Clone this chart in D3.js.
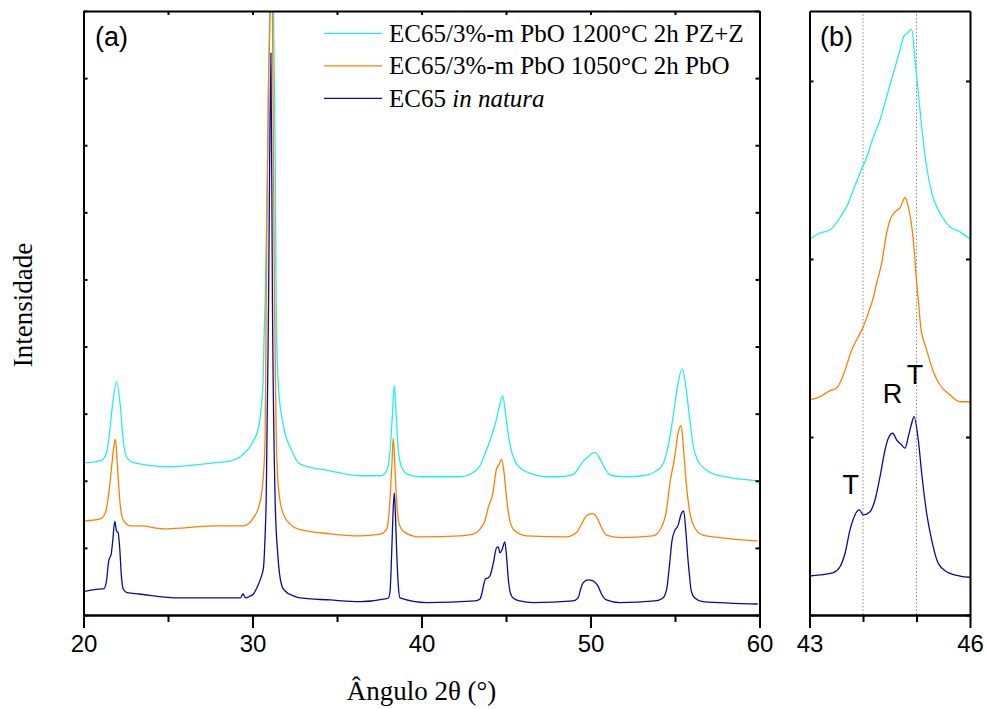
<!DOCTYPE html>
<html>
<head>
<meta charset="utf-8">
<script src="https://cdn.jsdelivr.net/npm/d3@7"></script>
<style>
  html, body { margin: 0; padding: 0; background: #fff; }
  svg { display: block; }
</style>
</head>
<body>
<svg id="chart" width="987" height="709"></svg>
<script>
// ---------------- DATA ----------------
const legendLabels = ["EC65/3%-m PbO 1200°C 2h PZ+Z", "EC65/3%-m PbO 1050°C 2h PbO", "EC65 "];
const legendItalic = ["", "", "in natura"];
const seriesColors = ["#22EEEE", "#FF8000", "#0A0AA0"];

const xTicksA = [20, 30, 40, 50, 60];
const xMinorA = [25, 35, 45, 55];
const xTicksB = [43, 46];
const xMinorB = [44, 45];
const refLines = [44, 45];
const peakLabels = ["T", "R", "T"];
const peakLabelTheta = [43.77, 44.55, 44.97];
const peakLabelInt = [680, 1190, 1300];

// panel (a): 2θ (°) and intensity (a.u.)
const thetaA_pz = [20.02,21.00,21.30,21.49,21.70,21.95,22.19,22.35,22.58,22.97,24.95,27.70,28.69,29.47,30.06,30.36,30.50,30.62,30.69,30.75,30.90,31.01,31.11,31.24,31.34,31.40,31.48,31.60,31.74,31.93,32.23,32.82,34.59,36.37,37.55,37.94,38.14,38.27,38.39,38.51,38.63,38.83,39.22,39.91,42.27,43.06,43.46,43.75,44.05,44.34,44.60,44.80,44.93,45.07,45.27,45.52,45.92,46.61,47.40,48.18,48.97,49.26,49.52,49.86,50.25,50.45,50.71,50.94,51.33,52.12,53.10,53.90,54.29,54.58,54.88,55.17,55.43,55.67,55.86,56.06,56.35,56.85,57.64,59.90];
const intA_pz   = [2269,2298,2373,2597,3089,3478,3089,2597,2343,2269,2209,2268,2298,2398,2597,2796,3045,3448,4194,4686,6925,9015,10500,9015,6925,4686,3691,3194,2945,2697,2497,2249,2149,2075,2075,2149,2448,2945,3418,2945,2448,2199,2090,2060,2060,2124,2224,2398,2597,2821,3094,3269,3094,2796,2497,2298,2175,2100,2060,2060,2090,2179,2273,2358,2422,2373,2254,2149,2075,2060,2075,2149,2249,2497,2945,3443,3667,3343,2945,2548,2298,2160,2075,2000];

const thetaA_pbo = [20.02,21.00,21.30,21.49,21.64,21.79,21.89,21.99,22.09,22.19,22.38,22.78,23.37,24.73,27.90,29.47,30.06,30.36,30.56,30.65,30.75,30.81,30.93,31.05,31.14,31.18,31.30,31.40,31.48,31.60,31.83,32.23,32.72,34.59,36.37,37.55,37.94,38.09,38.24,38.33,38.43,38.53,38.68,39.02,39.91,42.27,43.06,43.46,43.75,43.95,44.21,44.44,44.60,44.74,44.87,45.03,45.23,45.52,46.22,48.58,49.17,49.47,49.76,50.12,50.39,50.65,50.94,51.73,53.70,54.19,54.49,54.72,54.98,55.17,55.37,55.51,55.67,55.86,56.16,56.65,57.64,59.90];
const intA_pbo   = [1403,1433,1527,1801,2149,2497,2622,2298,1900,1601,1403,1328,1328,1284,1328,1328,1452,1601,1851,2100,2697,4686,7671,9015,10500,9015,4686,2697,2100,1751,1503,1354,1279,1209,1179,1204,1279,1552,2199,2637,2199,1701,1354,1228,1164,1179,1204,1279,1403,1602,1801,2175,2249,2324,2149,1751,1403,1254,1179,1164,1228,1354,1478,1512,1452,1303,1190,1154,1179,1303,1552,2000,2348,2697,2821,2448,1951,1552,1303,1190,1154,1104];

const thetaA_nat = [20.02,21.10,21.20,21.36,21.49,21.64,21.73,21.85,21.95,22.05,22.14,22.25,22.35,22.58,23.27,25.73,29.28,29.44,29.59,29.87,30.06,30.26,30.50,30.65,30.75,30.81,30.95,31.09,31.18,31.34,31.48,31.60,31.74,31.93,32.43,32.72,34.59,36.37,37.84,38.04,38.14,38.24,38.32,38.39,38.46,38.53,38.63,38.73,40.31,43.17,43.46,43.58,43.69,43.78,43.93,44.05,44.24,44.44,44.55,44.64,44.78,44.93,45.03,45.13,45.26,45.42,45.82,46.61,48.97,49.26,49.42,49.56,49.85,50.15,50.44,50.65,50.94,51.73,53.80,54.29,54.51,54.68,54.82,54.98,55.17,55.37,55.51,55.64,55.76,55.86,55.96,56.17,56.65,59.90];
const intA_nat   = [348,388,388,507,806,910,1104,1393,1254,1224,1004,557,388,333,313,254,254,313,254,284,313,407,557,706,1209,1701,4686,8373,4686,1701,955,612,433,358,284,258,224,199,239,254,358,955,1552,1821,1478,955,433,254,184,209,239,328,463,537,552,582,761,1000,1015,925,985,1090,881,552,328,254,209,184,209,254,388,478,522,507,433,313,224,184,209,254,388,761,1104,1254,1328,1507,1552,1254,851,582,358,254,199,164];

// panel (b): 2θ (°) and intensity (a.u.)
const thetaB_pz = [43.00,43.196,43.383,43.570,43.695,43.819,43.944,44.069,44.193,44.318,44.443,44.566,44.692,44.766,44.828,44.910,44.972,45.034,45.097,45.178,45.284,45.439,45.626,45.813,46.00];
const intB_pz   = [2111,2146,2163,2233,2294,2388,2483,2573,2685,2781,2912,3043,3174,3253,3268,3290,3118,2931,2743,2539,2371,2258,2180,2152,2111];

const thetaB_pbo = [43.00,43.196,43.383,43.508,43.632,43.789,43.912,44.006,44.099,44.181,44.256,44.350,44.443,44.505,44.598,44.692,44.785,44.847,44.940,45.004,45.034,45.079,45.190,45.314,45.439,45.626,45.813,46.00];
const intB_pbo   = [1208,1226,1260,1275,1348,1489,1563,1620,1697,1770,1865,1978,2146,2219,2264,2287,2344,2294,2107,1865,1770,1620,1489,1367,1292,1236,1198,1198];

const thetaB_nat = [43.00,43.196,43.445,43.570,43.664,43.757,43.850,43.931,44.006,44.131,44.224,44.318,44.411,44.473,44.555,44.630,44.723,44.785,44.847,44.910,44.953,45.034,45.097,45.190,45.284,45.407,45.564,45.813,46.00];
const intB_nat   = [219,225,238,271,347,478,562,590,562,580,646,777,927,993,1021,983,955,937,1002,1077,1114,983,796,571,421,290,243,219,212];

// ---------------- DRAWING ----------------
const svg = d3.select("#chart");
const yTop = 11, yBot = 615;
const sans = "'Liberation Sans', Arial, sans-serif";
const serif = "'Liberation Serif', 'Times New Roman', serif";

const xA = d3.scaleLinear().domain([20, 60]).range([83.5, 759.5]);
const yA = d3.scaleLinear().domain([0, 9000]).range([yBot, yTop]);
const xB = d3.scaleLinear().domain([43, 46]).range([809.5, 970]);
const yB = d3.scaleLinear().domain([0, 3393]).range([yBot, yTop]);

const defs = svg.append("defs");
defs.append("clipPath").attr("id", "clipA").append("rect")
  .attr("x", xA.range()[0]).attr("y", yTop).attr("width", xA.range()[1] - xA.range()[0]).attr("height", yBot - yTop);
defs.append("clipPath").attr("id", "clipB").append("rect")
  .attr("x", xB.range()[0]).attr("y", yTop).attr("width", xB.range()[1] - xB.range()[0]).attr("height", yBot - yTop);

function zip(xs, ys) { return xs.map((v, i) => [v, ys[i]]); }

// reference dotted lines in (b)
svg.append("g").selectAll("line").data(refLines).join("line")
  .attr("x1", d => xB(d)).attr("x2", d => xB(d))
  .attr("y1", yTop).attr("y2", yBot)
  .attr("stroke", "#888").attr("stroke-width", 1).attr("stroke-dasharray", "1.5,2");

// curves panel a
const seriesA = [zip(thetaA_pz, intA_pz), zip(thetaA_pbo, intA_pbo), zip(thetaA_nat, intA_nat)];
const lineA = d3.line().x(d => xA(d[0])).y(d => yA(d[1])).curve(d3.curveMonotoneX);
svg.append("g").attr("clip-path", "url(#clipA)").selectAll("path").data(seriesA).join("path")
  .attr("d", lineA).attr("fill", "none")
  .attr("stroke", (d, i) => seriesColors[i]).attr("stroke-width", 1.3);

// curves panel b
const seriesB = [zip(thetaB_pz, intB_pz), zip(thetaB_pbo, intB_pbo), zip(thetaB_nat, intB_nat)];
const lineB = d3.line().x(d => xB(d[0])).y(d => yB(d[1])).curve(d3.curveMonotoneX);
svg.append("g").attr("clip-path", "url(#clipB)").selectAll("path").data(seriesB).join("path")
  .attr("d", lineB).attr("fill", "none")
  .attr("stroke", (d, i) => seriesColors[i]).attr("stroke-width", 1.3);

// axes helper
function styleAxis(g) {
  g.selectAll(".domain").attr("stroke", "#000").attr("stroke-width", 2);
  g.selectAll(".tick line").attr("stroke", "#000").attr("stroke-width", 2);
  g.selectAll(".tick text").attr("font-family", sans).attr("font-size", 24).attr("fill", "#000");
}

// Panel a axes
svg.append("g").attr("transform", `translate(0,${yBot})`)
  .call(d3.axisBottom(xA).tickValues(xMinorA).tickSize(7).tickFormat("").tickSizeOuter(0))
  .call(styleAxis);
svg.append("g").attr("transform", `translate(0,${yBot})`)
  .call(d3.axisBottom(xA).tickValues(xTicksA).tickSize(13).tickPadding(7).tickFormat(d3.format("d")).tickSizeOuter(0))
  .call(styleAxis);
svg.append("g").attr("transform", `translate(0,${yTop})`)
  .call(d3.axisBottom(xA).tickValues(xTicksA.concat(xMinorA)).tickSize(4).tickFormat("").tickSizeOuter(0))
  .call(styleAxis);
svg.append("g").attr("transform", `translate(${xA.range()[0]},0)`)
  .call(d3.axisRight(yA).ticks(9).tickSize(4).tickFormat("").tickSizeOuter(0))
  .call(styleAxis);
svg.append("g").attr("transform", `translate(${xA.range()[1]},0)`)
  .call(d3.axisLeft(yA).ticks(9).tickSize(4).tickFormat("").tickSizeOuter(0))
  .call(styleAxis);

// Panel b axes
svg.append("g").attr("transform", `translate(0,${yBot})`)
  .call(d3.axisBottom(xB).tickValues(xMinorB).tickSize(7).tickFormat("").tickSizeOuter(0))
  .call(styleAxis);
svg.append("g").attr("transform", `translate(0,${yBot})`)
  .call(d3.axisBottom(xB).tickValues(xTicksB).tickSize(13).tickPadding(7).tickFormat(d3.format("d")).tickSizeOuter(0))
  .call(styleAxis);
svg.append("g").attr("transform", `translate(0,${yTop})`)
  .call(d3.axisBottom(xB).tickValues([]).tickSize(0).tickSizeOuter(0))
  .call(styleAxis);
svg.append("g").attr("transform", `translate(${xB.range()[0]},0)`)
  .call(d3.axisRight(yB).ticks(3).tickSize(4).tickFormat("").tickSizeOuter(0))
  .call(styleAxis);
svg.append("g").attr("transform", `translate(${xB.range()[1]},0)`)
  .call(d3.axisLeft(yB).ticks(3).tickSize(4).tickFormat("").tickSizeOuter(0))
  .call(styleAxis);

// panel labels
svg.append("text").attr("x", 95).attr("y", 46).attr("font-family", sans).attr("font-size", 27).text("(a)");
svg.append("text").attr("x", 820).attr("y", 46).attr("font-family", sans).attr("font-size", 27).text("(b)");

// peak labels in (b)
svg.append("g").selectAll("text").data(peakLabels).join("text")
  .attr("x", (d, i) => xB(peakLabelTheta[i])).attr("y", (d, i) => yB(peakLabelInt[i]))
  .attr("text-anchor", "middle").attr("font-family", sans).attr("font-size", 27).text(d => d);

// legend
const leg = svg.append("g");
legendLabels.forEach((lab, i) => {
  const y = 33.3 + i * 32.5;
  leg.append("line").attr("x1", 324).attr("x2", 382).attr("y1", y).attr("y2", y)
    .attr("stroke", seriesColors[i]).attr("stroke-width", 1.3);
  const t = leg.append("text").attr("x", 389).attr("y", y + 8.4)
    .attr("font-family", serif).attr("font-size", 25).attr("fill", "#000");
  t.append("tspan").text(lab);
  if (legendItalic[i]) t.append("tspan").attr("font-style", "italic").text(legendItalic[i]);
});

// axis titles
svg.append("text").attr("x", xA(40)).attr("y", 700).attr("text-anchor", "middle")
  .attr("font-family", serif).attr("font-size", 27).text("Ângulo 2θ (°)");
svg.append("text").attr("transform", "translate(32,305) rotate(-90)").attr("text-anchor", "middle")
  .attr("font-family", serif).attr("font-size", 27).text("Intensidade");
</script>
</body>
</html>
